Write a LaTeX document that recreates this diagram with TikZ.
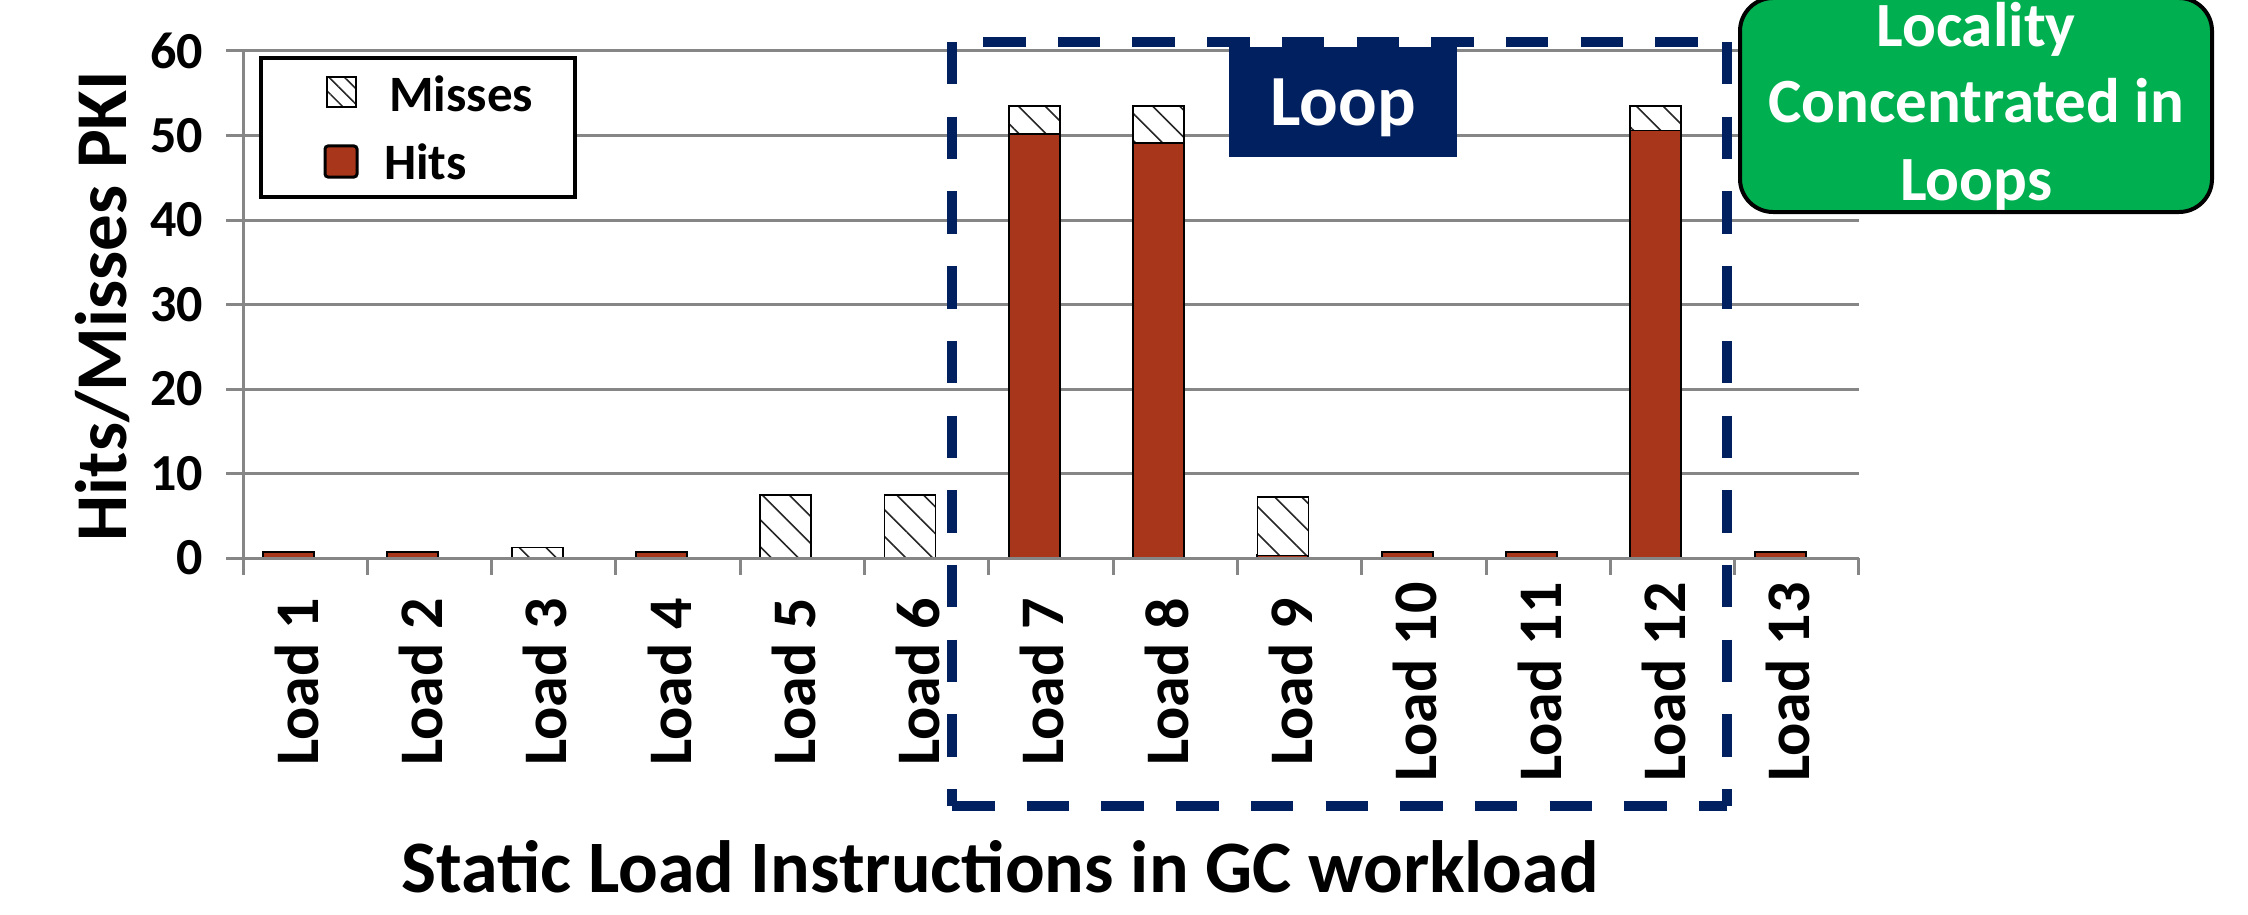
\documentclass[tikz,border=0pt]{standalone}
\usepackage{fontspec}
\setmainfont{Carlito}
\usetikzlibrary{patterns.meta}
\definecolor{hitred}{RGB}{168,54,26}
\definecolor{locgreen}{RGB}{0,176,80}
\definecolor{loopnavy}{RGB}{0,32,96}
\definecolor{gridgray}{RGB}{134,134,134}
\newcommand{\fsz}[1]{\fontsize{#1}{#1}\selectfont\bfseries}
\begin{document}
\begin{tikzpicture}[x=1pt,y=-1pt,
  gridline/.style={gridgray, line width=3},
  hitbar/.style={draw=black, line width=2, fill=hitred},
  missbar/.style={draw=black, line width=1.8, preaction={fill=white}, pattern={Lines[angle=-45,distance=19pt,line width=1.6pt]}, pattern color=black!85},
  loopline/.style={loopnavy, line width=10, line cap=butt, dash pattern=on 42.5pt off 32.2pt},
  ticklab/.style={inner sep=0, anchor=east, font={\fsz{52}}},
  loadlab/.style={inner sep=0, anchor=base, rotate=90, font={\fsz{62}}},
  txt/.style={inner sep=0, anchor=base},
]
\useasboundingbox (0,0) rectangle (2248,915);
\fill[white] (0,0) rectangle (2248,915);

% gridlines
\foreach \v in {10,20,...,60}
  \draw[gridline] (226,{558-8.45*\v}) -- (1859,{558-8.45*\v});
\draw[gridline] (243,{558-8.45*60}) -- (243,575);
\foreach \k in {1,...,13}
  \draw[gridline] ({243+124.3*\k},558) -- ({243+124.3*\k},575);

% y tick labels
\foreach \v in {0,10,...,60}
  \node[ticklab] (yt\v) at (203,{558-8.45*\v}) {\v};

% hits bars
\foreach \k/\a/\b in {1/0/0.75, 2/0/0.75, 4/0/0.75, 7/0/50.2, 8/0/49.1, 9/0/0.3, 10/0/0.75, 11/0/0.75, 12/0/50.6, 13/0/0.75}
  \draw[hitbar] ({243+124.3*(\k-1)+20},{558-8.45*\a}) rectangle ({243+124.3*(\k-1)+71},{558-8.45*\b});
% misses bars
\foreach \k/\a/\b in {3/0/1.25, 5/0/7.45, 6/0/7.45, 7/50.2/53.5, 8/49.1/53.5, 9/0.3/7.25, 12/50.6/53.5}
  \draw[missbar] ({243+124.3*(\k-1)+20},{558-8.45*\a}) rectangle ({243+124.3*(\k-1)+71},{558-8.45*\b});

% x axis
\draw[gridline] (226,558) -- (1859,558);

% x labels
\foreach \k in {1,...,13}
  \node[loadlab] (xl\k) at ({243+124.3*(\k-0.5)+13},682) {Load \k};

% titles
\node[txt, rotate=90, font={\fsz{73}}] (ytitle) at (126,306) {Hits/Misses PKI};
\node[txt, font={\fsz{74}}] (xtitle) at (1000,892) {Static Load Instructions in GC workload};

% legend
\node[draw=black, line width=3.5, fill=white, minimum width=314, minimum height=139, inner sep=0] (legend) at (418,127.5) {};
\node[draw=black, line width=1.5, preaction={fill=white}, pattern={Lines[angle=-45,distance=11pt,line width=1.5pt]}, pattern color=black!85, minimum width=29, minimum height=30, inner sep=0] (swm) at (341.5,92) {};
\node[draw=black, line width=3, fill=hitred, rounded corners=3, minimum width=32, minimum height=31, inner sep=0] (swh) at (341,161.5) {};
\node[txt, anchor=base west, font={\fsz{51}}] (lm) at (389,112) {Misses};
\node[txt, anchor=base west, font={\fsz{51}}] (lh) at (384,179) {Hits};

% loop box
\node[fill=loopnavy, minimum width=228, minimum height=110, inner sep=0] (loop) at (1343,102) {};
\node[txt, white, font={\fsz{72}}] (looplabel) at (1343,126) {Loop};

% dashed loop region
\coordinate (LTL) at (952,42);
\coordinate (LTR) at (1727,42);
\coordinate (LBL) at (952,806);
\coordinate (LBR) at (1727,806);
\draw[loopline] (LTL) -- (LBL);
\draw[loopline] (LBL) -- (LBR);
\draw[loopline] (LTR) -- (LBR);
\draw[loopline, dash phase=43.7pt] (LTL) -- (LTR);

% green note
\node[draw=black, line width=4, fill=locgreen, rounded corners=33, minimum width=472, minimum height=214, inner sep=0] (note) at (1976,105) {};
\node[txt, white, font={\fsz{63}}] (n1) at (1976,47) {Locality};
\node[txt, white, font={\fsz{63}}] (n2) at (1976,123) {Concentrated in};
\node[txt, white, font={\fsz{63}}] (n3) at (1976,200) {Loops};
\end{tikzpicture}
\end{document}
